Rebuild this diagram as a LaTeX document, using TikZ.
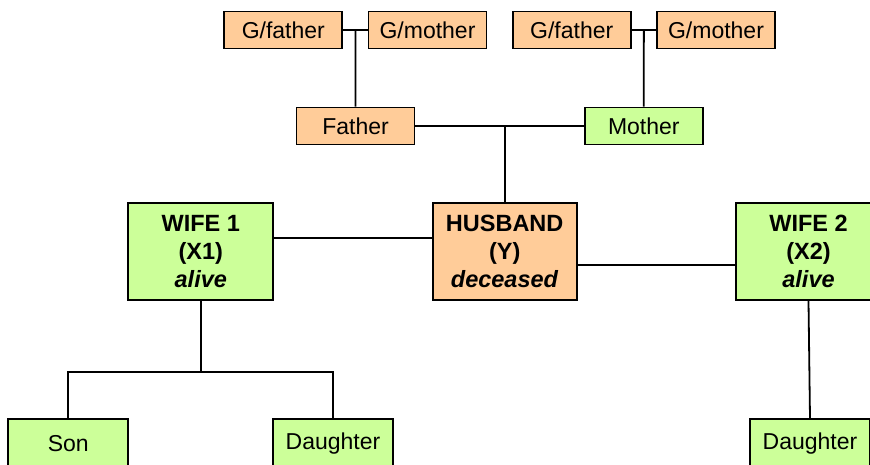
\documentclass[tikz,border=0pt]{standalone}
\usepackage{fontspec}
\setmainfont{Liberation Sans}
\usetikzlibrary{calc}
\definecolor{peach}{RGB}{255,204,153}
\definecolor{lime}{RGB}{204,255,153}
\begin{document}
\begin{tikzpicture}[x=1pt,y=-1pt,
  box/.style={draw=black, line width=1.9pt, inner sep=0pt, align=center,
    minimum width=118pt, minimum height=37pt,
    font=\fontsize{23}{27.5}\selectfont},
  malebox/.style={box, fill=peach},
  femalebox/.style={box, fill=lime},
  spouse/.style={minimum width=145pt, minimum height=96.7pt,
    font=\fontsize{23.5}{27.8}\selectfont\bfseries},
  child/.style={minimum width=120pt, minimum height=48pt},
  link/.style={draw=black, line width=1.8pt}]
\useasboundingbox (0,0) rectangle (870,464);
\clip (0,0) rectangle (870,464);

% grandparents
\node[malebox] (gf1) at (283.3,30) {G/father};
\node[malebox] (gm1) at (427.5,30) {G/mother};
\node[malebox] (gf2) at (571.7,30) {G/father};
\node[malebox] (gm2) at (716,30) {G/mother};

% parents
\node[malebox] (father) at (355.5,126) {Father};
\node[femalebox] (mother) at (643.8,126) {Mother};

% spouses
\node[femalebox, spouse] (wife1) at (200.8,251.7) {WIFE 1\\(X1)\\\textit{alive}};
\node[malebox, spouse, minimum width=144pt] (husband) at (504.7,251.7) {HUSBAND\\(Y)\\\textit{deceased}};
\node[femalebox, spouse] (wife2) at (808.5,251.7) {WIFE 2\\(X2)\\\textit{alive}};

% children
\node[femalebox, child] (son) at (68.3,443.3) {Son};
\node[femalebox, child] (dau1) at (333,443.3) {Daughter};
\node[femalebox, child] (dau2) at (810,443.3) {Daughter};

% grandparent couples
\draw[link] (gf1.east) -- (gm1.west);
\draw[link] ($(gf1.east)!0.5!(gm1.west)$) -- (father.north);
\draw[link] (gf2.east) -- (gm2.west);
\draw[link] ($(gf2.east)!0.5!(gm2.west)$) -- (mother.north);

% parents couple
\draw[link] (father.east) -- (mother.west);
\draw[link] (husband.north |- father.east) -- (husband.north);

% marriages
\draw[link] ([yshift=13.4pt]wife1.east) -- ([yshift=13.4pt]husband.west);
\draw[link] ([yshift=-13.3pt]husband.east) -- ([yshift=-13.3pt]wife2.west);

% children of wife 1
\coordinate (fork) at (200.7,371.7);
\draw[link] (wife1.south) -- (wife1.south |- fork);
\draw[link] (son.north) -- (son.north |- fork) -- (dau1.north |- fork) -- (dau1.north);

% child of wife 2
\draw[link] (wife2.south) -- (dau2.north);
\end{tikzpicture}
\end{document}
